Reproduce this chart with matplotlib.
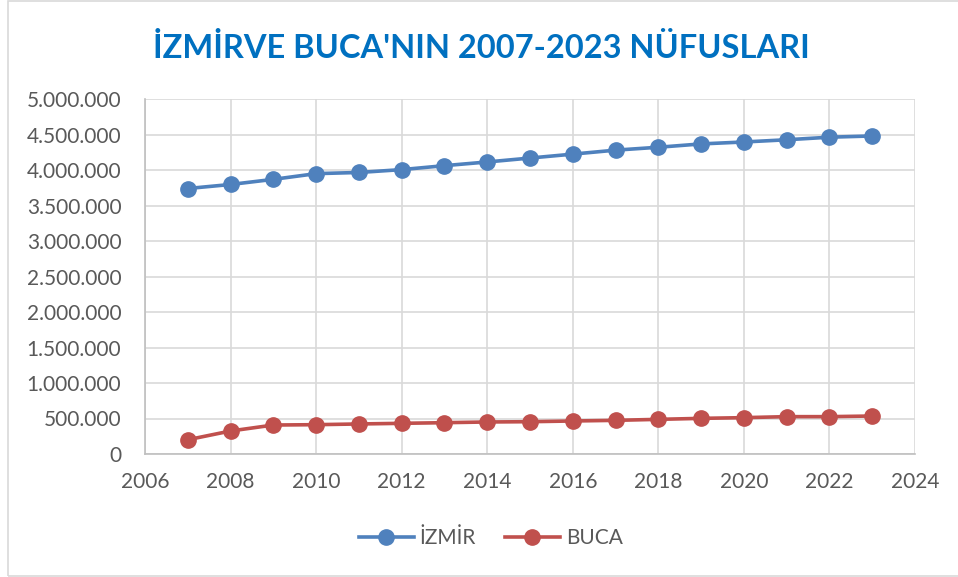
import matplotlib
matplotlib.use("Agg")
import matplotlib.pyplot as plt
from matplotlib.ticker import FuncFormatter, MultipleLocator
from matplotlib.patches import Rectangle

plt.rcParams['font.family'] = ['Lato', 'DejaVu Sans']

years = list(range(2007, 2024))
izmir = [3739353, 3795978, 3868308, 3948848, 3965232, 4005459, 4061074, 4113072,
         4168415, 4223545, 4279677, 4320519, 4367251, 4394694, 4425789, 4462056,
         4479525]
buca = [201000, 324000, 408000, 413000, 423000, 432000, 441000, 451000,
        455000, 465000, 474000, 488000, 502000, 512000, 526000, 526000,
        535000]

title = "İZMİRVE BUCA'NIN 2007-2023 NÜFUSLARI"
series_names = ["İZMİR", "BUCA"]
colors = ["#4F81BD", "#C0504D"]

fig = plt.figure(figsize=(9.58, 5.77), dpi=100)
ax = fig.add_axes([145 / 958, 1 - 454 / 577, 770 / 958, 355 / 577])

for vals, name, c in zip([izmir, buca], series_names, colors):
    ax.plot(years, vals, color=c, lw=2.6, marker="o", markersize=11,
            label=name, zorder=3)

ax.set_xlim(2006, 2024)
ax.set_ylim(0, 5000000)
ax.xaxis.set_major_locator(MultipleLocator(2))
ax.yaxis.set_major_locator(MultipleLocator(500000))
ax.yaxis.set_major_formatter(FuncFormatter(lambda v, p: f"{int(v):,}".replace(",", ".")))

ax.grid(True, color="#D9D9D9", lw=1.2)
ax.set_axisbelow(True)
for s in ["top", "right"]:
    ax.spines[s].set_visible(False)
for s in ["left", "bottom"]:
    ax.spines[s].set_color("#BFBFBF")
    ax.spines[s].set_linewidth(1.2)
ax.tick_params(length=0, labelsize=15, colors="#595959")
ax.tick_params(axis="y", pad=17)
ax.tick_params(axis="x", pad=13)

fig.text(0.503, 1 - 48 / 577, title, ha="center", va="center",
         fontsize=23.5, fontweight="bold", color="#0070C0")

fig.legend(loc="center", bbox_to_anchor=(491 / 958, 1 - 538 / 577), ncol=2,
           frameon=False, fontsize=15, handlelength=2.6, columnspacing=1.4,
           labelcolor="#595959", handletextpad=0.3)

fig.patches.append(Rectangle((8 / 958, 1 / 577), 1.0, 575 / 577,
                             transform=fig.transFigure, fill=False,
                             edgecolor="#D9D9D9", lw=1.2))

fig.savefig("out.png", dpi=100)
